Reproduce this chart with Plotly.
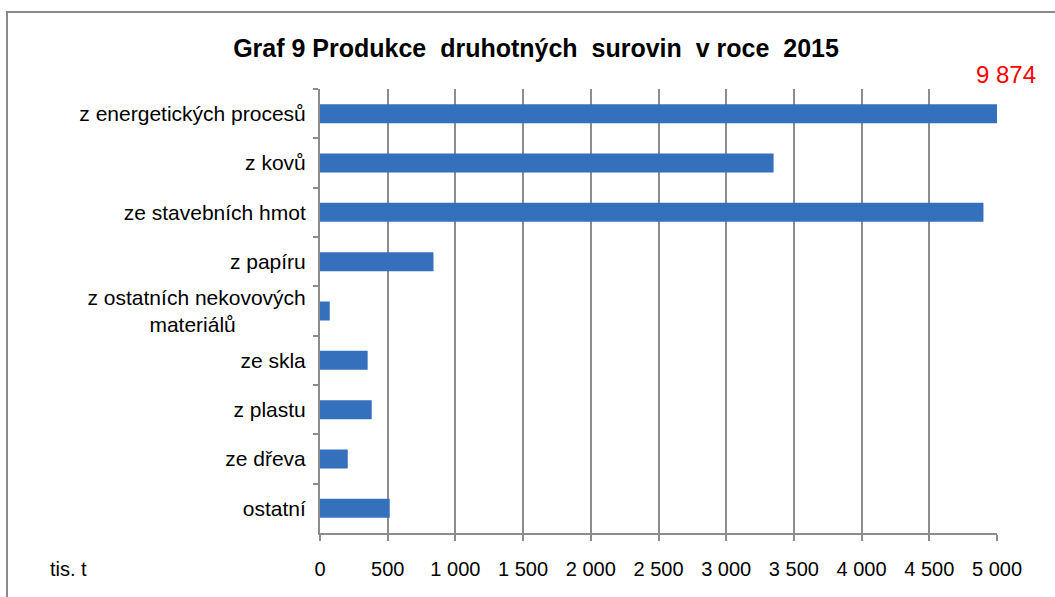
import plotly.graph_objects as go

categories = [
    "z energetických procesů",
    "z kovů",
    "ze stavebních hmot",
    "z papíru",
    "z ostatních nekovových<br>materiálů" + "\u00a0" * 12,
    "ze skla",
    "z plastu",
    "ze dřeva",
    "ostatní",
]
values = [9874, 3350, 4900, 838, 72, 352, 382, 205, 515]
x_tickvals = [0, 500, 1000, 1500, 2000, 2500, 3000, 3500, 4000, 4500, 5000]
x_ticktext = ["0", "500", "1 000", "1 500", "2 000", "2 500", "3 000", "3 500", "4 000", "4 500", "5 000"]
title_text = "Graf 9 Produkce\u00a0 druhotných\u00a0 surovin\u00a0 v roce\u00a0 2015"
unit_text = "tis. t"
overflow_label = "9 874"

W, H = 1055, 597
L, R, T, B = 320, 58, 89, 64
PW, PH = W - L - R, H - T - B

def px_x(p):
    return (p - L) / PW

def px_y(p):
    return (H - B - p) / PH

FONT = "Arial, 'Liberation Sans', sans-serif"
GRID = "#8c8c8c"

fig = go.Figure()
fig.add_trace(go.Bar(
    y=categories, x=values, orientation="h",
    marker=dict(color="#3570bc", line=dict(width=0)),
    hoverinfo="x+y",
))

fig.update_layout(
    width=W, height=H,
    margin=dict(l=L, r=R, t=T, b=B, pad=0),
    paper_bgcolor="white", plot_bgcolor="white",
    bargap=0.615,
    showlegend=False,
    font=dict(family=FONT, color="black", size=20),
    title=dict(text="<b>" + title_text + "</b>", x=536 / W, xanchor="center",
               y=1 - 48 / H, yanchor="middle",
               font=dict(family=FONT, size=25, color="black")),
    xaxis=dict(
        range=[0, 5000], tickvals=x_tickvals, ticktext=x_ticktext,
        showgrid=True, gridcolor=GRID, gridwidth=1.5,
        showline=True, linecolor=GRID, linewidth=2,
        ticks="outside", ticklen=6, tickwidth=2, tickcolor=GRID,
        tickfont=dict(family=FONT, size=20, color="black"),
        ticklabelstandoff=11, zeroline=False, fixedrange=True,
    ),
    yaxis=dict(
        autorange="reversed", type="category",
        showline=True, linecolor=GRID, linewidth=2,
        ticks="outside", ticklen=5, tickwidth=2, tickcolor=GRID,
        tickson="boundaries", showgrid=False,
        tickfont=dict(family=FONT, size=21, color="black"),
        ticklabelstandoff=8, fixedrange=True,
    ),
)

fig.add_shape(type="rect", xref="paper", yref="paper",
              x0=px_x(7), x1=px_x(W + 40), y0=px_y(H + 40), y1=px_y(12),
              line=dict(color="#8a8a8a", width=2), fillcolor="rgba(0,0,0,0)",
              layer="below")

fig.add_annotation(text=unit_text, xref="paper", yref="paper",
                   x=px_x(48), y=px_y(569), xanchor="left", yanchor="middle",
                   showarrow=False, font=dict(family=FONT, size=20, color="black"))
fig.add_annotation(text=overflow_label, xref="paper", yref="paper",
                   x=px_x(1006), y=px_y(74), xanchor="center", yanchor="middle",
                   showarrow=False, font=dict(family=FONT, size=24, color="#ff0000"))

fig.write_html("out.html", config={"displayModeBar": False},
               post_script="document.body.style.margin='0';document.body.style.overflow='hidden';")
